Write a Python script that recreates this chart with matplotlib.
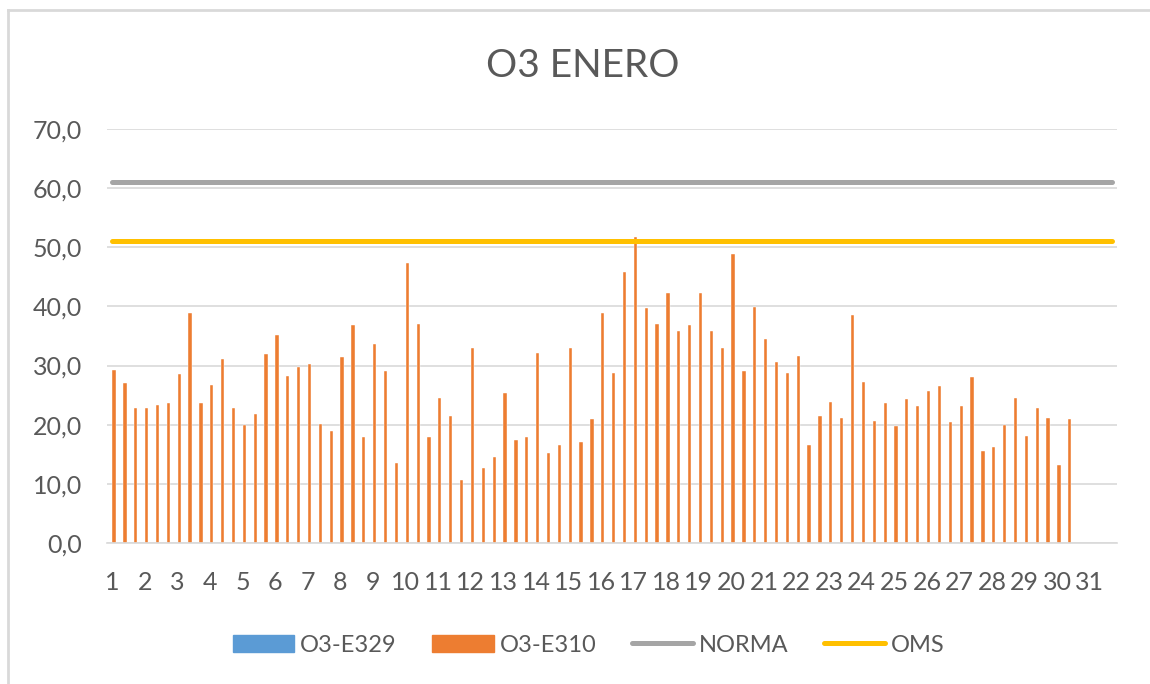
import matplotlib
matplotlib.use("Agg")
import matplotlib.pyplot as plt
from matplotlib.patches import Patch
from matplotlib.lines import Line2D
import numpy as np

plt.rcParams['font.family'] = ['Lato', 'DejaVu Sans']

days = list(range(1, 32))
e310 = [29.3, 27.0, 22.8, 22.8, 23.3, 23.6, 28.5, 38.9, 23.6, 26.7,
        31.1, 22.8, 19.9, 21.8, 31.9, 35.2, 28.3, 29.8, 30.3, 20.2,
        18.9, 31.4, 36.8, 17.9, 33.7, 29.0, 13.5, 47.4, 37.1, 17.9,
        24.6, 21.5, 10.6, 32.9, 12.7, 14.6, 25.4, 17.4, 17.9, 32.1,
        15.3, 16.6, 32.9, 17.1, 21.0, 38.9, 28.8, 45.9, 51.8, 39.7,
        37.1, 42.2, 35.8, 36.8, 42.2, 35.8, 32.9, 48.8, 29.0, 39.9,
        34.5, 30.6, 28.8, 31.6, 16.6, 21.5, 23.8, 21.2, 38.6, 27.2,
        20.7, 23.6, 19.7, 24.3, 23.1, 25.7, 26.5, 20.4, 23.1, 28.0,
        15.6, 16.3, 19.9, 24.6, 18.1, 22.8, 21.2, 13.2, 21.0]
norma = 61
oms = 51
per_day = 3

TXT = '#595959'
BLUE = '#5B9BD5'
ORANGE = '#ED7D31'
GRAY = '#A5A5A5'
YELLOW = '#FFC000'
GRID = '#D9D9D9'

W, H = 1150, 684
fig = plt.figure(figsize=(W / 100, H / 100), dpi=100)
ax = fig.add_axes([107 / W, (H - 543) / H, (1117 - 107) / W, (543 - 129) / H])

n_cat = len(days) * per_day
cats = np.arange(n_cat)

ax.bar(np.arange(len(e310)) + 0.15, e310, width=0.3, color=ORANGE,
       edgecolor='white', linewidth=0.3, zorder=2)
ax.plot(cats, [norma] * n_cat, color=GRAY, lw=3.6, solid_capstyle='round', zorder=3)
ax.plot(cats, [oms] * n_cat, color=YELLOW, lw=3.6, solid_capstyle='round', zorder=3)

ax.set_xlim(-0.5, n_cat - 0.5)
ax.set_ylim(0, 70)
ax.set_yticks(np.arange(0, 71, 10))
ax.set_yticklabels([f"{v:.1f}".replace('.', ',') for v in np.arange(0, 71, 10)])
ax.set_xticks(cats[::per_day])
ax.set_xticklabels([str(d) for d in days])
ax.tick_params(axis='both', length=0, labelsize=18, colors=TXT)
ax.tick_params(axis='y', pad=18)
ax.tick_params(axis='x', pad=20)
ax.grid(axis='y', color=GRID, lw=1.2, zorder=0)
ax.set_axisbelow(True)
for s in ['top', 'right', 'left']:
    ax.spines[s].set_visible(False)
ax.spines['bottom'].set_color(GRID)
ax.spines['bottom'].set_linewidth(1.2)

fig.text(583 / W, 1 - 77 / H, 'O3 ENERO', fontsize=28, color=TXT,
         ha='center', va='baseline')

handles = [Patch(color=BLUE, label='O3-E329'),
           Patch(color=ORANGE, label='O3-E310'),
           Line2D([], [], color=GRAY, lw=3.6, solid_capstyle='round', label='NORMA'),
           Line2D([], [], color=YELLOW, lw=3.6, solid_capstyle='round', label='OMS')]
fig.legend(handles=handles, loc='center', ncol=4, frameon=False,
           bbox_to_anchor=(589 / W, 1 - 645 / H), fontsize=17,
           labelcolor=TXT, handlelength=2.6, handletextpad=0.25,
           columnspacing=1.5, borderpad=0)

# marco del grafico (solo arriba e izquierda visibles)
fig.add_artist(Line2D([8 / W, 1], [1 - 10 / H, 1 - 10 / H], color=GRID, lw=2,
                      transform=fig.transFigure))
fig.add_artist(Line2D([8 / W, 8 / W], [0, 1 - 10 / H], color=GRID, lw=2,
                      transform=fig.transFigure))

fig.savefig('out.png', dpi=100, facecolor='white')
